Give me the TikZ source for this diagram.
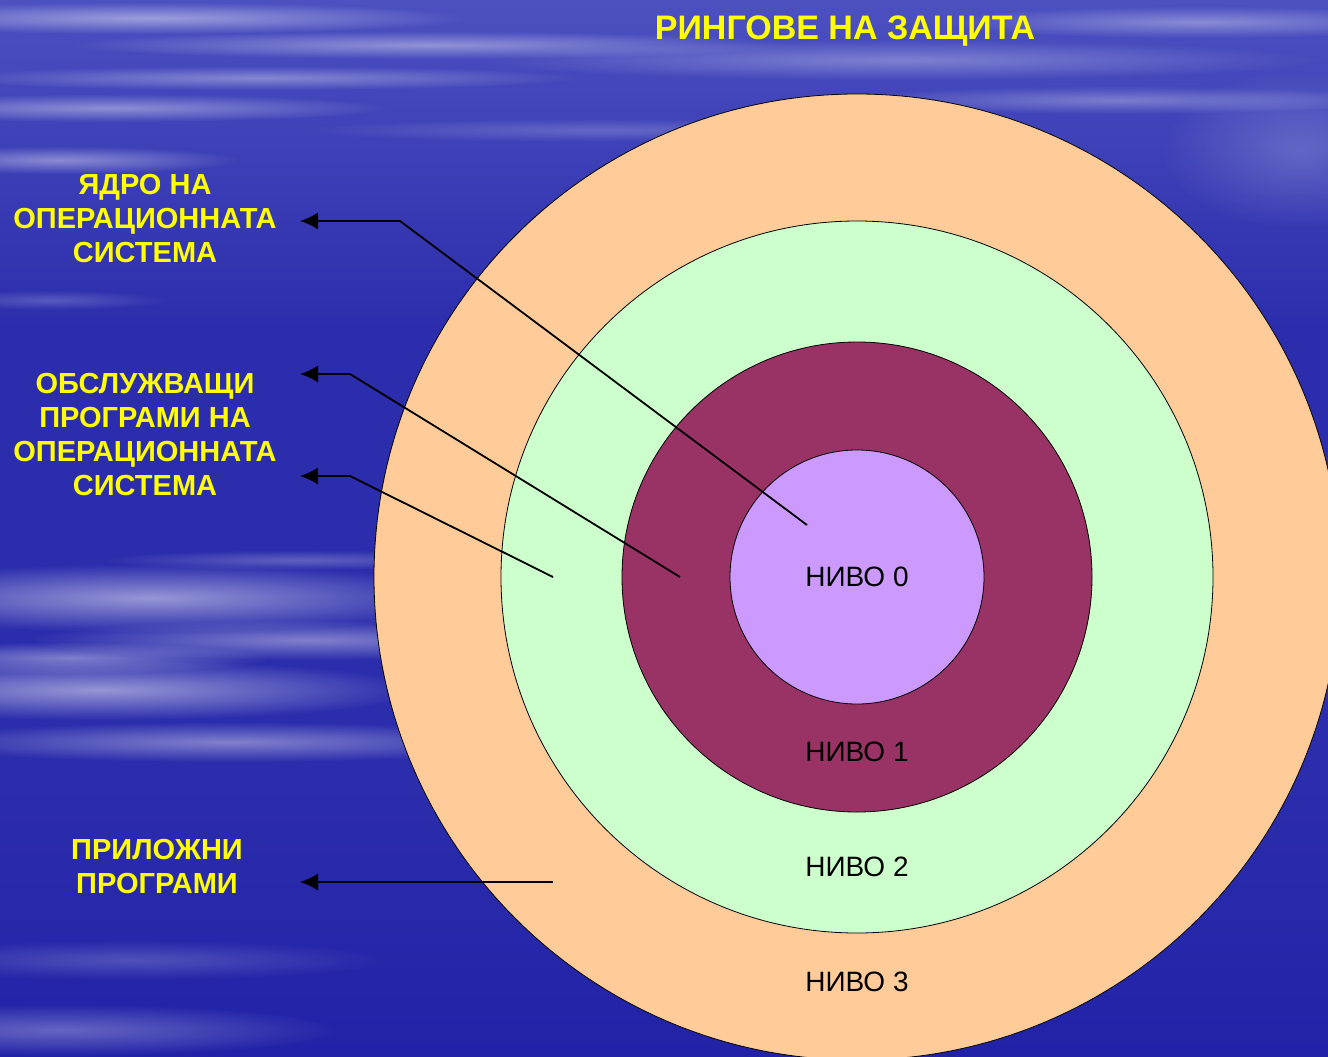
\documentclass[tikz,border=0pt]{standalone}
\usepackage{fontspec}
\setmainfont{Liberation Sans}
\usetikzlibrary{arrows.meta,fadings}

\definecolor{skytop}{HTML}{4C50C0}
\definecolor{skymid}{HTML}{2C2DAC}
\definecolor{skybot}{HTML}{2222A8}
\definecolor{ringthree}{HTML}{FFCC99}
\definecolor{ringtwo}{HTML}{CCFFCC}
\definecolor{ringone}{HTML}{993366}
\definecolor{ringzero}{HTML}{CC99FF}
\definecolor{textyellow}{HTML}{FFFF00}
\tikzfading[name=softcloud, inner color=transparent!0, outer color=transparent!100]

\begin{document}
\begin{tikzpicture}
[x=1pt,y=-1pt,
  ringdecorate/.style={shape=circle,draw=black,line width=0.8pt,inner sep=0pt},%
  leveltext/.style={font=\fontsize{28}{30}\selectfont},%
  sidetext/.style={font=\fontsize{29}{34}\selectfont\bfseries,text=textyellow,align=center},%
  linedecorate/.style={line width=1.8pt,-{Latex[length=18pt,width=17pt]}},%
  cloudstreak/.style={fill=white,path fading=softcloud}]
\useasboundingbox (0,0) rectangle (1328,1057);
\clip (0,0) rectangle (1328,1057);
%% sky
\fill[skymid] (0,0) rectangle (1328,1057);
\shade[top color=skytop,bottom color=skymid] (0,0) rectangle (1328,330);
\shade[top color=skymid,bottom color=skybot] (0,780) rectangle (1328,1057);
\foreach \cx/\cy/\rx/\ry/\op in {150/18/320/16/.45, 430/45/360/14/.4, 110/108/280/14/.4,
    260/78/320/12/.35, 900/60/420/20/.3, 1200/22/260/16/.35, 60/160/180/14/.4,
    1120/100/280/14/.3, 600/130/300/12/.2, 150/598/330/34/.5, 310/640/280/20/.4,
    100/690/320/30/.5, 230/742/320/20/.4, 70/658/200/16/.4, 130/960/260/20/.2,
    60/1030/280/26/.3, 1300/150/140/80/.2, 50/300/120/10/.2, 300/560/200/10/.25} {
  \fill[cloudstreak,opacity=\op] (\cx,\cy) ellipse (\rx pt and \ry pt);
}
%% rings
\node (ring3) at (857,577) [ringdecorate,fill=ringthree,minimum size=966pt] {};
\node (ring2) at (ring3.center) [ringdecorate,fill=ringtwo,minimum size=712pt] {};
\node (ring1) at (ring3.center) [ringdecorate,fill=ringone,minimum size=470pt] {};
\node (ring0) at (ring3.center) [ringdecorate,fill=ringzero,minimum size=254pt] {};
%% level names
\node (lvl0) at (857,577) [leveltext] {НИВО 0};
\node (lvl1) at (857,752) [leveltext] {НИВО 1};
\node (lvl2) at (857,867) [leveltext] {НИВО 2};
\node (lvl3) at (857,982) [leveltext] {НИВО 3};
%% titles
\node (title) at (845,31) [sidetext,font=\fontsize{34}{36}\selectfont\bfseries] {РИНГОВЕ НА ЗАЩИТА};
\node (kernel) at (145,219) [sidetext] {ЯДРО НА\\ОПЕРАЦИОННАТА\\СИСТЕМА};
\node (services) at (145,435) [sidetext] {ОБСЛУЖВАЩИ\\ПРОГРАМИ НА\\ОПЕРАЦИОННАТА\\СИСТЕМА};
\node (apps) at (157,867) [sidetext] {ПРИЛОЖНИ\\ПРОГРАМИ};
%% pointers
\foreach \name/\x/\y in {from0/807/525, bend0/400/221, tip0/300/221,
    from1/680/577, bend1/350/374, tip1/300/374,
    from2/553/577, bend2/350/476, tip2/300/476,
    from3/553/882, tip3/300/882} {
  \coordinate (\name) at (\x,\y);
}
\draw[linedecorate] (from0) -- (bend0) -- (tip0);
\draw[linedecorate] (from1) -- (bend1) -- (tip1);
\draw[linedecorate] (from2) -- (bend2) -- (tip2);
\draw[linedecorate] (from3) -- (tip3);
\end{tikzpicture}
\end{document}
